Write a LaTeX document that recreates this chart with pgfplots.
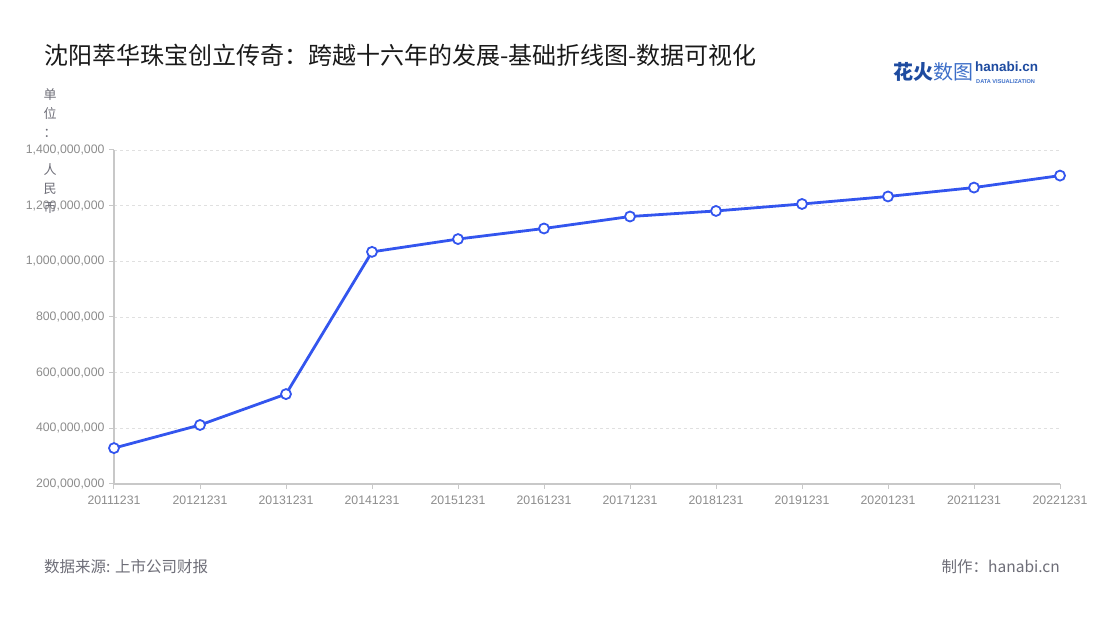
\documentclass[border=0pt]{standalone}
\usepackage{pgfplots}
\pgfplotsset{compat=1.18}
\usepackage{fontspec}
\setmainfont{Liberation Sans}
\newfontfamily\cjk{Noto Sans CJK SC}
\definecolor{linec}{RGB}{51,85,238}
\definecolor{gridc}{RGB}{224,224,224}
\definecolor{axisc}{RGB}{200,200,200}
\definecolor{tickc}{RGB}{140,140,140}
\definecolor{footc}{RGB}{110,110,120}
\definecolor{logob}{RGB}{30,75,160}
\definecolor{logol}{RGB}{60,110,200}
\begin{document}
\begin{tikzpicture}[x=1pt,y=1pt]
\path[use as bounding box] (0,0) rectangle (1100,620);
\begin{axis}[
  at={(114pt,136pt)}, anchor=south west,
  width=946pt, height=334pt, scale only axis,
  xmin=0, xmax=11, ymin=200000000, ymax=1400000000,
  axis x line*=bottom, axis y line*=left,
  axis line style={axisc, line width=1.5pt, -},
  xtick={0,...,11},
  xticklabels={20111231,20121231,20131231,20141231,20151231,20161231,20171231,20181231,20191231,20201231,20211231,20221231},
  ytick={200000000,400000000,600000000,800000000,1000000000,1200000000,1400000000},
  scaled y ticks=false,
  yticklabel style={/pgf/number format/fixed, /pgf/number format/precision=0, /pgf/number format/1000 sep={,}, xshift=-1pt},
  xticklabel style={yshift=-3pt},
  /pgf/number format/assume math mode=true,
  ticklabel style={font=\fontsize{12.3}{12.3}\selectfont, text=tickc},
  tick style={axisc, line width=1pt},
  major tick length=5pt, tick align=outside,
  ymajorgrids, grid style={gridc, dashed, line width=0.8pt},
  clip=false,
]
\addplot[linec, line width=2.8pt, mark=*, mark size=5pt,
  mark options={fill=white, draw=linec, line width=1.8pt}]
  coordinates {
  (0,329000000) (1,412000000) (2,523000000) (3,1034000000)
  (4,1080000000) (5,1118000000) (6,1161000000) (7,1181000000)
  (8,1206000000) (9,1233000000) (10,1265000000) (11,1308000000)
  };
\end{axis}
% title
\node[anchor=west, inner sep=0pt, font=\cjk\fontsize{24}{24}\selectfont, text=black!90] at (44,565)
  {沈阳萃华珠宝创立传奇：跨越十六年的发展-基础折线图-数据可视化};
% unit label
\node[align=center, inner sep=0pt, font=\cjk\fontsize{13}{18.7}\selectfont, text=footc] at (50,469)
  {单\\位\\：\\\mbox{}\\人\\民\\币};
% footer
\node[anchor=west, inner sep=0pt, font=\cjk\fontsize{15.5}{15.5}\selectfont, text=footc] at (44,53)
  {数据来源: 上市公司财报};
\node[anchor=east, inner sep=0pt, font=\cjk\fontsize{15.5}{15.5}\selectfont, text=footc] at (1060,53)
  {制作：hanabi.cn};
% logo
\node[anchor=west, inner sep=0pt, font=\cjk\fontsize{20}{20}\selectfont] at (893,548)
  {\textcolor{logob}{\bfseries 花火}\textcolor{logol}{数图}};
\node[anchor=west, inner sep=0pt, font=\fontsize{13.5}{13.5}\selectfont\bfseries, text=logob] at (975,553)
  {hanabi.cn};
\node[anchor=west, inner sep=0pt, font=\fontsize{5.6}{5.6}\selectfont\bfseries, text=logol] at (976,538)
  {DATA VISUALIZATION};
\end{tikzpicture}
\end{document}
